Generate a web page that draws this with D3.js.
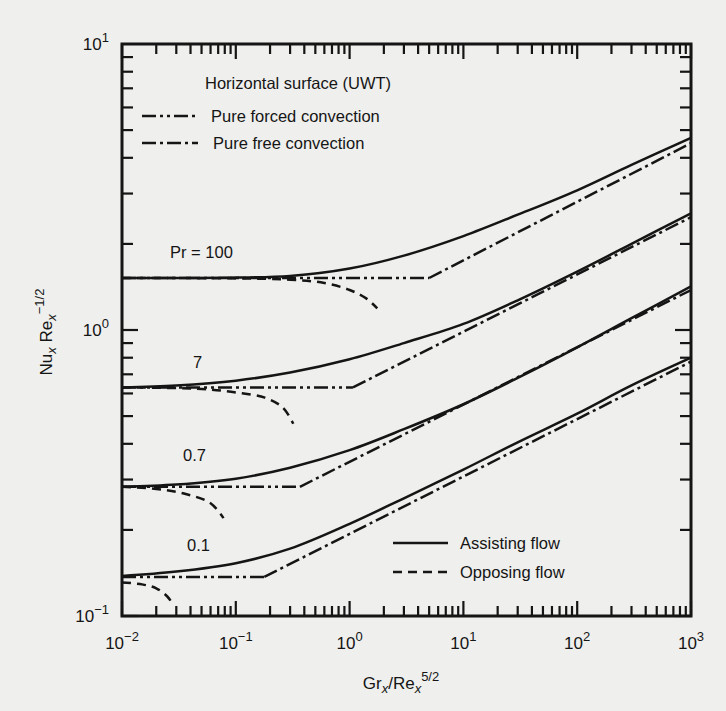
<!DOCTYPE html>
<html>
<head>
<meta charset="utf-8">
<script src="https://cdn.jsdelivr.net/npm/d3@7"></script>
<style>
  body { margin: 0; background: #efefed; }
  svg { display: block; font-family: "Liberation Sans", Arial, sans-serif; }
</style>
</head>
<body>
<svg id="chart" width="726" height="711"></svg>
<script>
// values
const prLabels = ["Pr = 100", "7", "0.7", "0.1"];
const xGrid = [0.01, 0.03, 0.1, 0.3, 1, 3, 10, 30, 100, 300, 1000];

// assisting flow (solid), one row per Pr, sampled at xGrid
const assist100 = [1.52, 1.52, 1.525, 1.545, 1.64, 1.82, 2.13, 2.53, 3.08, 3.78, 4.7];
const assist7   = [0.63, 0.64, 0.665, 0.71, 0.79, 0.9, 1.05, 1.27, 1.6, 2.0, 2.56];
const assist07  = [0.283, 0.288, 0.302, 0.33, 0.38, 0.45, 0.55, 0.68, 0.87, 1.1, 1.42];
const assist01  = [0.138, 0.143, 0.153, 0.172, 0.21, 0.258, 0.325, 0.405, 0.51, 0.64, 0.8];

// opposing flow (dashed)
const opp100X = [0.01, 0.1, 0.3, 0.6, 1, 1.4, 1.75];
const opp100Y = [1.52, 1.515, 1.5, 1.46, 1.38, 1.29, 1.19];
const opp7X = [0.01, 0.05, 0.1, 0.18, 0.26, 0.32];
const opp7Y = [0.63, 0.622, 0.605, 0.58, 0.535, 0.47];
const opp07X = [0.01, 0.02, 0.035, 0.06, 0.078];
const opp07Y = [0.283, 0.278, 0.268, 0.248, 0.22];
const opp01X = [0.01, 0.015, 0.02, 0.025, 0.028];
const opp01Y = [0.131, 0.129, 0.125, 0.117, 0.11];

// pure forced (flat) and pure free (slope 1/5) asymptotes
const forcedValue = [1.52, 0.63, 0.283, 0.137];
const kinkX = [5.0, 1.07, 0.366, 0.178];
const freeAtEnd = [4.5, 2.48, 1.38, 0.775];

const xTickLabels = ["−2", "−1", "0", "1", "2", "3"];
const yTickLabels = ["−1", "0", "1"];

const svg = d3.select("#chart");
const pLeft = 122, pRight = 691, pTop = 44, pBottom = 616;
const ink = "#151515";

const x = d3.scaleLog().domain([0.01, 1000]).range([pLeft, pRight]);
const y = d3.scaleLog().domain([0.1, 10]).range([pBottom, pTop]);

svg.append("defs").append("clipPath").attr("id", "clip")
  .append("rect").attr("x", pLeft).attr("y", pTop).attr("width", pRight - pLeft).attr("height", pBottom - pTop);

const line = d3.line().x(d => x(d[0])).y(d => y(d[1])).curve(d3.curveCatmullRom.alpha(0.5));
const straight = d3.line().x(d => x(d[0])).y(d => y(d[1]));

const plot = svg.append("g").attr("clip-path", "url(#clip)");

const assisting = [assist100, assist7, assist07, assist01];
const opposing = [[opp100X, opp100Y], [opp7X, opp7Y], [opp07X, opp07Y], [opp01X, opp01Y]];

const dashForced = "14,4,3,4,3,4";
const dashFree = "14,4,3,4";
const dashOpp = "9,6";

assisting.forEach((vals, i) => {
  // forced asymptote
  plot.append("path").attr("d", straight([[0.01, forcedValue[i]], [kinkX[i], forcedValue[i]]]))
    .attr("fill", "none").attr("stroke", ink).attr("stroke-width", 2.5).attr("stroke-dasharray", dashForced);
  // free asymptote
  plot.append("path").attr("d", straight([[kinkX[i], forcedValue[i]], [1000, freeAtEnd[i]]]))
    .attr("fill", "none").attr("stroke", ink).attr("stroke-width", 2.5).attr("stroke-dasharray", dashFree);
  // assisting
  plot.append("path").attr("d", line(xGrid.map((xv, j) => [xv, vals[j]])))
    .attr("fill", "none").attr("stroke", ink).attr("stroke-width", 2.5);
  // opposing
  const [ox, oy] = opposing[i];
  plot.append("path").attr("d", line(ox.map((xv, j) => [xv, oy[j]])))
    .attr("fill", "none").attr("stroke", ink).attr("stroke-width", 2.5).attr("stroke-dasharray", dashOpp);
});

// ticks, inward on all four sides
const xTicks = [], yTicks = [];
for (let e = -2; e < 3; e++) for (let k = 1; k < 10; k++) xTicks.push({ v: k * Math.pow(10, e), major: k === 1 });
xTicks.push({ v: 1000, major: true });
for (let e = -1; e < 1; e++) for (let k = 1; k < 10; k++) yTicks.push({ v: k * Math.pow(10, e), major: k === 1 });

const ticks = svg.append("g").attr("stroke", ink).attr("stroke-width", 2.2);
xTicks.forEach(t => {
  const len = t.major ? 15 : 10;
  ticks.append("line").attr("x1", x(t.v)).attr("x2", x(t.v)).attr("y1", pBottom).attr("y2", pBottom - len);
  ticks.append("line").attr("x1", x(t.v)).attr("x2", x(t.v)).attr("y1", pTop).attr("y2", pTop + len);
});
yTicks.forEach(t => {
  const len = t.major ? 16 : 11;
  ticks.append("line").attr("y1", y(t.v)).attr("y2", y(t.v)).attr("x1", pLeft).attr("x2", pLeft + len);
  ticks.append("line").attr("y1", y(t.v)).attr("y2", y(t.v)).attr("x1", pRight).attr("x2", pRight - len);
});

svg.append("rect").attr("x", pLeft).attr("y", pTop).attr("width", pRight - pLeft).attr("height", pBottom - pTop)
  .attr("fill", "none").attr("stroke", ink).attr("stroke-width", 3);

// tick labels
const xl = svg.append("g").attr("font-size", 17).attr("fill", ink);
xTickLabels.forEach((s, i) => {
  const t = xl.append("text").attr("x", x(Math.pow(10, i - 2))).attr("y", 649).attr("text-anchor", "middle");
  t.append("tspan").text("10");
  t.append("tspan").attr("dy", -8).attr("font-size", 13).text(s);
});
yTickLabels.forEach((s, i) => {
  const t = xl.append("text").attr("x", 109).attr("y", y(Math.pow(10, i - 1)) + 6).attr("text-anchor", "end");
  t.append("tspan").text("10");
  t.append("tspan").attr("dy", -8).attr("font-size", 13).text(s);
});

// axis titles
const xt = svg.append("text").attr("x", 401).attr("y", 689).attr("text-anchor", "middle")
  .attr("font-size", 17).attr("fill", ink);
xt.append("tspan").text("Gr");
xt.append("tspan").attr("dy", 4).attr("font-size", 13).attr("font-style", "italic").text("x");
xt.append("tspan").attr("dy", -4).text("/Re");
xt.append("tspan").attr("dy", 4).attr("font-size", 13).attr("font-style", "italic").text("x");
xt.append("tspan").attr("dy", -12).attr("font-size", 13).text("5/2");

const yt = svg.append("text").attr("transform", "translate(52,332) rotate(-90)").attr("text-anchor", "middle")
  .attr("font-size", 17).attr("fill", ink);
yt.append("tspan").text("Nu");
yt.append("tspan").attr("dy", 4).attr("font-size", 13).attr("font-style", "italic").text("x");
yt.append("tspan").attr("dy", -4).text(" Re");
yt.append("tspan").attr("dy", 4).attr("font-size", 13).attr("font-style", "italic").text("x");
yt.append("tspan").attr("dy", -12).attr("font-size", 13).text("−1/2");

// curve labels
const labelPos = [[170, 258], [193, 368], [183, 461], [187, 551]];
prLabels.forEach((s, i) => {
  svg.append("text").attr("x", labelPos[i][0]).attr("y", labelPos[i][1]).attr("font-size", 16.5)
    .attr("fill", ink).text(s);
});

// legends
const leg = svg.append("g").attr("font-size", 16.5).attr("fill", ink);
leg.append("text").attr("x", 205).attr("y", 89).text("Horizontal surface (UWT)");
const legItems = [
  { y: 116, dash: dashForced, text: "Pure forced convection", x0: 142, x1: 198, tx: 211 },
  { y: 143, dash: dashFree, text: "Pure free convection", x0: 142, x1: 198, tx: 213 },
  { y: 543, dash: null, text: "Assisting flow", x0: 393, x1: 448, tx: 460 },
  { y: 572, dash: dashOpp, text: "Opposing flow", x0: 393, x1: 448, tx: 460 }
];
legItems.forEach(d => {
  leg.append("line").attr("x1", d.x0).attr("x2", d.x1).attr("y1", d.y).attr("y2", d.y)
    .attr("stroke", ink).attr("stroke-width", 2.5).attr("stroke-dasharray", d.dash);
  leg.append("text").attr("x", d.tx).attr("y", d.y + 6).text(d.text);
});
</script>
</body>
</html>
